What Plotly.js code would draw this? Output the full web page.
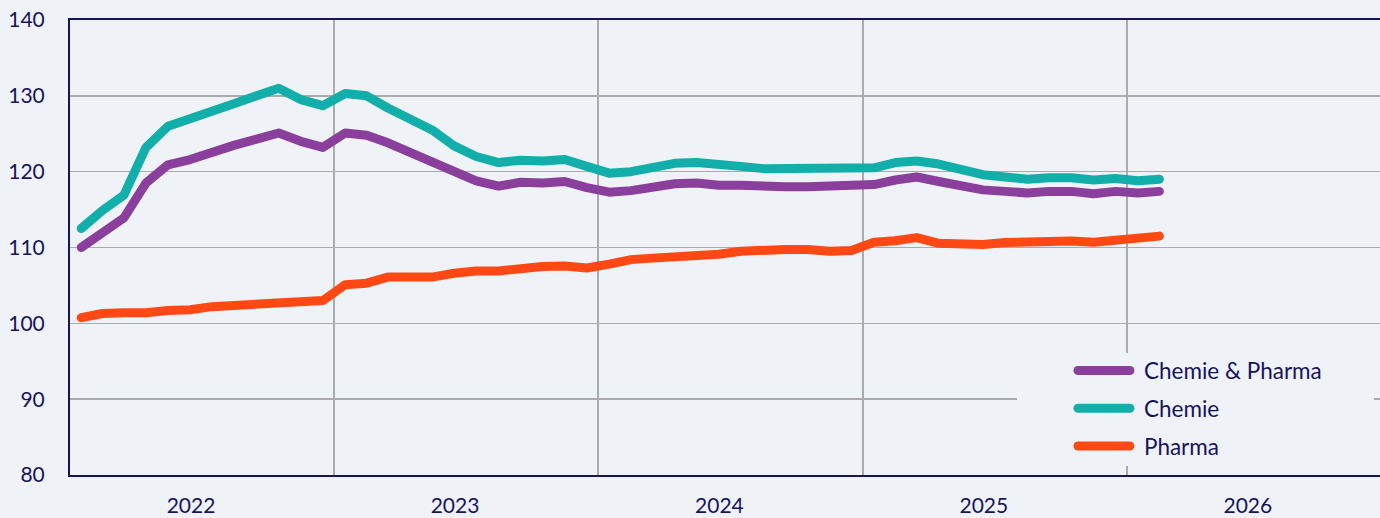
<!DOCTYPE html>
<html>
<head>
<meta charset="utf-8">
<script src="https://cdn.plot.ly/plotly-3.0.1.min.js"></script>
<style>
  html, body { margin: 0; padding: 0; background: #eff3f8; }
  #chart { width: 1380px; height: 518px; }
  .scatterlayer path.js-line, .legendlines path { stroke-linecap: round; stroke-linejoin: round; }
  .legend text.legendtext { transform: translateX(9px); }
  .legend .scrollbox, .legend g { clip-path: none !important; }
</style>
</head>
<body>
<div id="chart"></div>
<script>
const months = [
  '2022-01','2022-02','2022-03','2022-04','2022-05','2022-06','2022-07','2022-08','2022-09','2022-10','2022-11','2022-12',
  '2023-01','2023-02','2023-03','2023-04','2023-05','2023-06','2023-07','2023-08','2023-09','2023-10','2023-11','2023-12',
  '2024-01','2024-02','2024-03','2024-04','2024-05','2024-06','2024-07','2024-08','2024-09','2024-10','2024-11','2024-12',
  '2025-01','2025-02','2025-03','2025-04','2025-05','2025-06','2025-07','2025-08','2025-09','2025-10','2025-11','2025-12',
  '2026-01','2026-02'
];

const chemiePharma = [
  110.0,111.9,113.9,118.5,120.9,121.6,122.6,123.5,124.3,125.1,
  124.0,123.2,125.1,124.8,123.8,122.6,121.5,120.0,118.8,118.1,
  118.6,118.5,118.7,117.9,117.3,117.5,117.9,118.4,118.5,118.2,
  118.2,118.0,118.0,118.0,118.1,118.0,118.3,118.9,119.3,118.7,
  118.0,117.6,117.4,117.2,117.4,117.4,117.1,117.4,117.2,117.4
];

const chemie = [
  112.5,114.9,116.9,123.2,126.0,126.9,128.0,129.0,130.0,131.0,
  129.5,128.7,130.3,130.0,128.4,126.9,125.5,123.4,122.0,121.2,
  121.5,121.4,121.6,120.7,119.8,120.0,120.4,121.1,121.2,120.8,
  120.7,120.4,120.4,120.4,120.5,120.4,120.5,121.2,121.4,121.0,
  120.2,119.6,119.3,119.0,119.2,119.2,118.9,119.1,118.8,119.0
];

const pharma = [
  100.75,101.3,101.4,101.4,101.7,101.8,102.2,102.4,102.6,102.8,
  102.9,103.0,105.1,105.3,106.1,106.0,106.1,106.6,106.9,106.9,
  107.35,107.5,107.55,107.3,107.8,108.4,108.6,108.7,108.8,109.1,
  109.5,109.7,109.75,109.75,109.5,109.6,110.7,110.9,111.3,110.55,
  110.4,110.4,110.65,110.75,110.75,110.85,110.7,110.9,111.25,111.5
];

const seriesNames = ['Chemie & Pharma', 'Chemie', 'Pharma'];
const seriesColors = ['#8a3f9c', '#12aea9', '#ff4814'];
const seriesValues = [chemiePharma, chemie, pharma];

const BG = '#eff3f8';
const NAVY = '#17135f';
const FONT = 'Lato, "Noto Sans", sans-serif';

const traces = seriesNames.map((name, i) => ({
  type: 'scatter',
  mode: 'lines',
  name: name,
  legendgroup: 'g' + i,
  x: months,
  y: seriesValues[i],
  xperiod: 'M1',
  xperiodalignment: 'middle',
  line: { color: seriesColors[i], width: 9 },
  hoverinfo: 'skip'
}));

const layout = {
  width: 1380,
  height: 518,
  margin: { l: 70, r: 0, t: 20, b: 43, pad: 0 },
  paper_bgcolor: BG,
  plot_bgcolor: BG,
  font: { family: FONT, color: NAVY, size: 21 },
  showlegend: true,
  legend: {
    x: 0.7656, y: 0.2761, xanchor: 'left', yanchor: 'top',
    bgcolor: 'rgba(0,0,0,0)', borderwidth: 0,
    font: { family: FONT, color: NAVY, size: 22.5 },
    itemwidth: 52,
    tracegroupgap: 5.5
  },
  xaxis: {
    type: 'date',
    range: ['2022-01-01', '2026-12-17'],
    dtick: 'M12',
    tick0: '2022-01-01',
    tickformat: '%Y',
    ticklabelmode: 'period',
    ticklabelshift: -11,
    ticklabelstandoff: 11,
    ticks: '',
    showgrid: true,
    gridcolor: '#ababab',
    gridwidth: 1.6,
    showline: true,
    linecolor: NAVY,
    linewidth: 2,
    mirror: true,
    zeroline: false,
    tickfont: { family: FONT, color: NAVY, size: 21 },
    fixedrange: true
  },
  yaxis: {
    range: [80, 140],
    dtick: 10,
    tick0: 80,
    ticks: '',
    ticklabelstandoff: 19,
    showgrid: true,
    gridcolor: '#ababab',
    gridwidth: 1.6,
    showline: true,
    linecolor: NAVY,
    linewidth: 2,
    mirror: true,
    zeroline: false,
    tickfont: { family: FONT, color: NAVY, size: 21 },
    fixedrange: true
  },
  shapes: [{
    type: 'rect', xref: 'paper', yref: 'paper',
    x0: 0.7229, x1: 0.9954, y0: 0.0198, y1: 0.268,
    fillcolor: BG, line: { width: 0 }, layer: 'above'
  }]
};

Plotly.newPlot('chart', traces, layout, { displayModeBar: false, staticPlot: true });
</script>
</body>
</html>
